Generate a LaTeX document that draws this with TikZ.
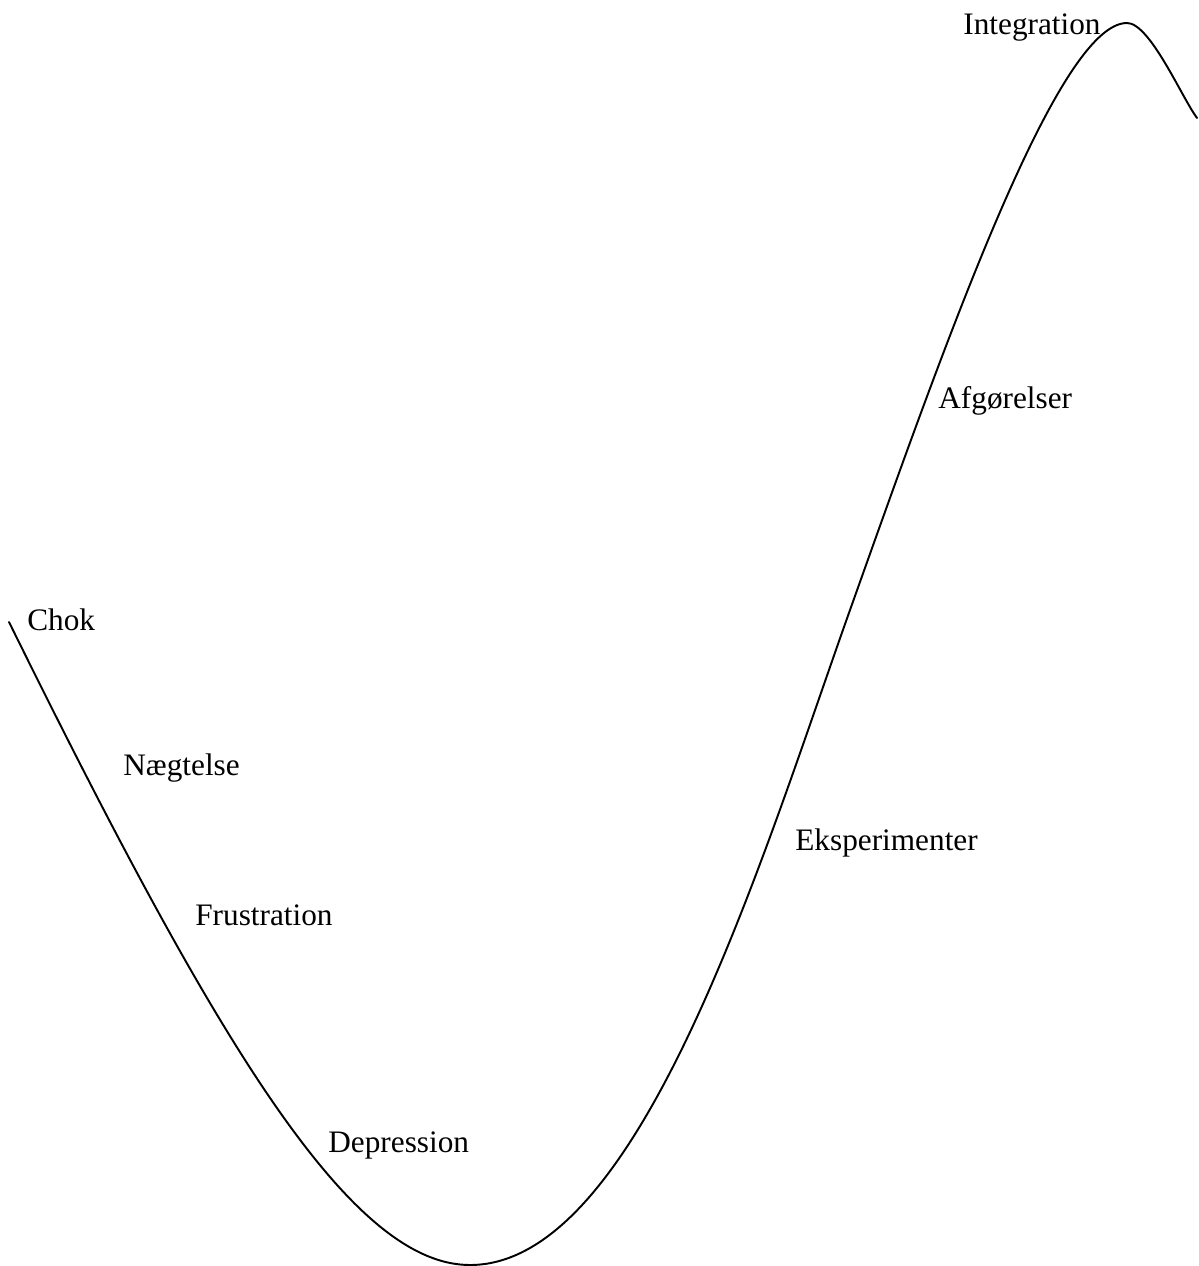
\documentclass[tikz,border=0pt]{standalone}
\usepackage{fontspec}
\setmainfont{Liberation Serif}
\usepackage{tikz}

\begin{document}
\begin{tikzpicture}[x = .02cm, y = -.02cm]
    \useasboundingbox (0,0) rectangle (1198,1266);
    \tikzset{phase/.style = {anchor = base west, inner sep = 0pt, font = \fontsize{17.8}{20}\selectfont}}
    \coordinate (start) at (9,622);
    \coordinate (bottom) at (470,1265);
    \coordinate (turn) at (850,610);
    \coordinate (peak) at (1127,23);
    \coordinate (end) at (1197,118);
    \draw[line width = 1.1pt, line cap = round] (start)
        .. controls (216,1042) and (350,1265) .. (bottom)
        .. controls (640,1265) and (761,860) .. (turn)
        .. controls (942.6,350) and (1057,23) .. (peak)
        .. controls (1150,23) and (1182,98) .. (end);
    \node[phase] (chok) at (27,630) {Chok};
    \node[phase] (naegtelse) at (123,775) {Nægtelse};
    \node[phase] (frustration) at (195,925) {Frustration};
    \node[phase] (depression) at (328,1152) {Depression};
    \node[phase] (eksperimenter) at (795,850) {Eksperimenter};
    \node[phase] (afgoerelser) at (938,409) {Afgørelser};
    \node[phase] (integration) at (963,35) {Integration};
\end{tikzpicture}
\end{document}
